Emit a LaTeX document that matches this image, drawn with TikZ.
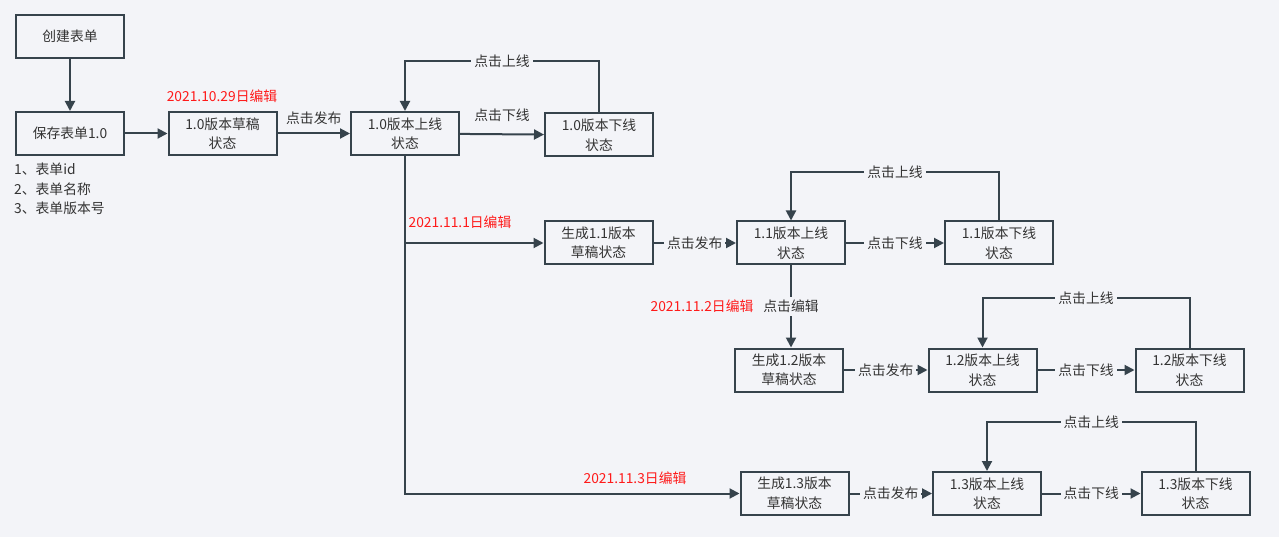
\documentclass[tikz,border=0pt]{standalone}
\usepackage{fontspec}
\setmainfont{Noto Sans CJK SC}
\usetikzlibrary{arrows.meta}
\definecolor{bg}{HTML}{F3F4F8}
\definecolor{ln}{HTML}{36434C}
\definecolor{txt}{HTML}{333333}
\definecolor{rd}{HTML}{FF1A1A}
\newcommand{\fs}{\fontsize{13.8}{19.5}\selectfont}
\tikzset{
  box/.style={draw=ln, line width=2pt, minimum width=108pt, minimum height=43pt, inner sep=0pt, align=center, font=\fs, text=txt},
  conn/.style={draw=ln, line width=2pt, -{Triangle[length=10pt,width=10pt]}},
  lbl/.style={fill=bg, inner sep=3pt, font=\fs, text=txt},
  datelbl/.style={font=\fs, text=rd, inner sep=1pt},
}
\begin{document}
\begin{tikzpicture}[x=1pt,y=-1pt]
\fill[bg] (0,0) rectangle (1279,537);
\useasboundingbox (0,0) rectangle (1279,537);
% nodes
\node[box] (create) at (70,36.5) {创建表单};
\node[box] (save) at (70,133.5) {保存表单1.0};
\node[box] (d10) at (222.5,133.5) {1.0版本草稿\\状态};
\node[box] (on10) at (405,133.5) {1.0版本上线\\状态};
\node[box] (off10) at (599,135) {1.0版本下线\\状态};
\node[box] (d11) at (598.5,243) {生成1.1版本\\草稿状态};
\node[box] (on11) at (791,243) {1.1版本上线\\状态};
\node[box] (off11) at (999,243) {1.1版本下线\\状态};
\node[box] (d12) at (789,370) {生成1.2版本\\草稿状态};
\node[box] (on12) at (982.5,370) {1.2版本上线\\状态};
\node[box] (off12) at (1189.5,370) {1.2版本下线\\状态};
\node[box] (d13) at (794.5,493.5) {生成1.3版本\\草稿状态};
\node[box] (on13) at (987,493.5) {1.3版本上线\\状态};
\node[box] (off13) at (1195.5,493.5) {1.3版本下线\\状态};
% list text
\node[anchor=north west, align=left, font=\fs, text=txt, inner sep=0pt] (info) at (14,163) {1、表单id\\2、表单名称\\3、表单版本号};
% dates
\node[datelbl] (dt10) at (222,96) {2021.10.29日编辑};
\node[datelbl] (dt11) at (460,222) {2021.11.1日编辑};
\node[datelbl] (dt12) at (702,306) {2021.11.2日编辑};
\node[datelbl] (dt13) at (635,478) {2021.11.3日编辑};
% row 1.0
\draw[conn] (create) -- (save);
\draw[conn] (save) -- (d10);
\draw[conn] (d10) -- node[font=\fs, text=txt, above=5pt] {点击发布} (on10);
\draw[conn] (on10) -- node[font=\fs, text=txt, above=8pt] {点击下线} (off10);
\draw[conn] (off10.north) |- node[lbl, pos=0.75] {点击上线} (405,61) -- (on10.north);
% trunk
\draw[conn] (on10.south) |- (d11.west);
\draw[conn] (on10.south) |- (d13.west);
% row 1.1
\draw[conn] (d11) -- node[lbl] {点击发布} (on11);
\draw[conn] (on11) -- node[lbl] {点击下线} (off11);
\draw[conn] (off11.north) |- node[lbl, pos=0.75] {点击上线} (791,172) -- (on11.north);
\draw[conn] (on11.south) -- node[lbl] {点击编辑} (on11.south |- d12.north);
% row 1.2
\draw[conn] (d12) -- node[lbl] {点击发布} (on12);
\draw[conn] (on12) -- node[lbl] {点击下线} (off12);
\draw[conn] (off12.north) |- node[lbl, pos=0.75] {点击上线} (982.5,298) -- (on12.north);
% row 1.3
\draw[conn] (d13) -- node[lbl] {点击发布} (on13);
\draw[conn] (on13) -- node[lbl] {点击下线} (off13);
\draw[conn] (off13.north) |- node[lbl, pos=0.75] {点击上线} (987,422) -- (on13.north);
\end{tikzpicture}
\end{document}
